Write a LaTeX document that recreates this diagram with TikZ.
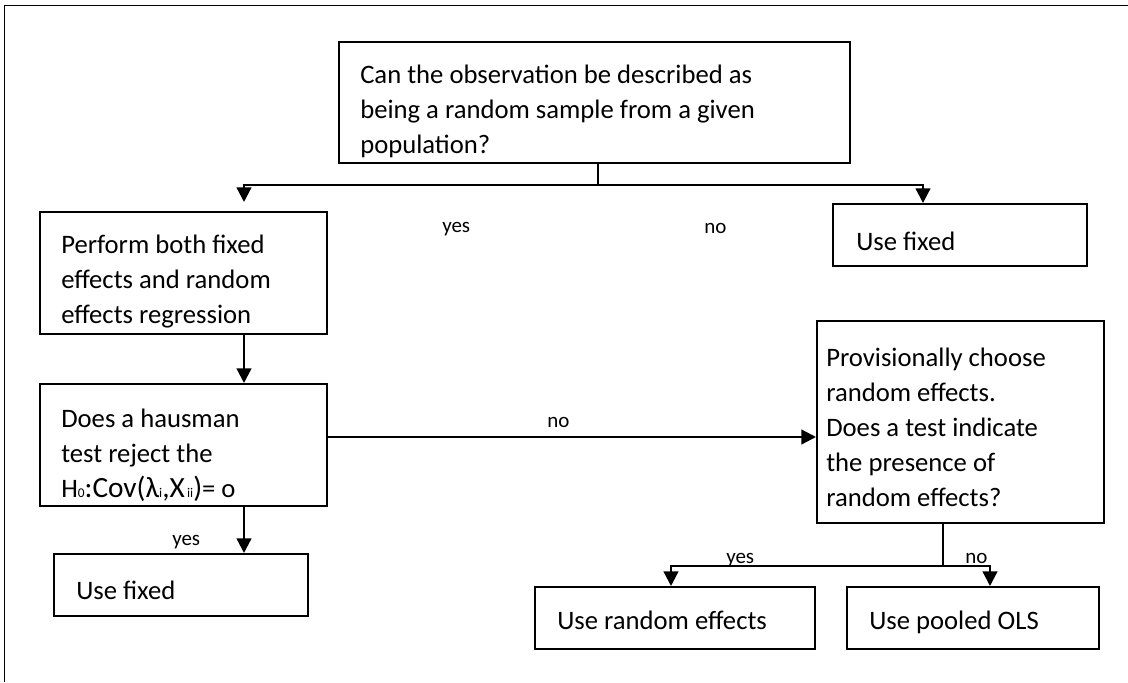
\documentclass[tikz,border=0pt]{standalone}
\usepackage{fontspec}
\setmainfont{Carlito}
\usetikzlibrary{arrows.meta,fit}
\newcommand{\fsA}{\fontsize{10}{12}\selectfont}
\newcommand{\fsB}{\fontsize{22}{26}\selectfont}
\begin{document}
\begin{tikzpicture}[x=0.75pt, y=-0.75pt,
  box/.style={draw, line width=1.5pt, inner sep=0pt, fit={#1}},
  txt/.style={anchor=base west, inner sep=0pt, align=left, font=\fontsize{20}{26.25}\selectfont},
  lbl/.style={anchor=base west, inner sep=0pt, font=\fontsize{15.75}{18}\selectfont},
  conn/.style={line width=1.7pt},
  arr/.style={conn, -{Triangle[width=11pt, length=11pt]}},
  frame/.style={line width=1.1pt}
]
\useasboundingbox (0,0) rectangle (1128,682);
% outer frame
\coordinate (fA) at (4.5,682);
\coordinate (fB) at (4.5,5.5);
\coordinate (fC) at (1128,5.5);
\draw[frame] (fA) -- (fB) -- (fC);

% boxes
\node[box={(339,42) (850,163)}] (top) {};
\node[box={(40,212) (327,334)}] (perform) {};
\node[box={(833,204) (1087,266)}] (fixedA) {};
\node[box={(40,384) (327,506)}] (hausman) {};
\node[box={(817,321) (1104,523)}] (prov) {};
\node[box={(54,554) (308,616)}] (fixedB) {};
\node[box={(535,587) (815,649)}] (random) {};
\node[box={(847,587) (1099,649)}] (pooled) {};

% texts (anchored at the baseline of their last line)
\node[txt] (ttop) at (360,153) {Can the observation be described as\\being a random sample from a given\\population?};
\node[txt] (tperform) at (61,323) {Perform both fixed\\effects and random\\effects regression};
\node[txt] (tfixedA) at (856,250) {Use fixed};
\node[txt] (thausman) at (61,497) {Does a hausman\\test reject the\\H{\fsA 0}{\fsB :Cov(λ}{\fsA i}{\fsB ,X}{\fsA\,ii}{\fsB )}= o};
\node[txt] (tprov) at (826,506) {Provisionally choose\\random effects.\\Does a test indicate\\the presence of\\random effects?};
\node[txt] (tfixedB) at (76,599) {Use fixed};
\node[txt] (trandom) at (557,629) {Use random effects};
\node[txt] (tpooled) at (869,629) {Use pooled OLS};

% junction coordinates
\coordinate (j1) at (598,185);
\coordinate (xL) at (244,0);
\coordinate (xR) at (923,0);
\coordinate (yM) at (0,437);
\coordinate (j2) at (943,566);
\coordinate (xa) at (671,0);
\coordinate (xb) at (990,0);

% connectors
\draw[conn] (top.south -| j1) -- (j1);
\draw[arr, shorten >=6.75pt] (j1) -| (perform.north -| xL);
\draw[arr] (j1) -| (fixedA.north -| xR);
\draw[arr] (perform.south -| xL) -- (hausman.north -| xL);
\draw[arr] (hausman.east |- yM) -- (prov.west |- yM);
\draw[arr] (hausman.south -| xL) -- (fixedB.north -| xL);
\draw[conn] (prov.south -| j2) -- (j2);
\draw[arr] (j2) -| (random.north -| xa);
\draw[arr] (j2) -| (pooled.north -| xb);

% labels
\node[lbl] (l1) at (442,232) {yes};
\node[lbl] (l2) at (704,233) {no};
\node[lbl] (l3) at (547,427) {no};
\node[lbl] (l4) at (172,545) {yes};
\node[lbl] (l5) at (726,563) {yes};
\node[lbl] (l6) at (965,563) {no};
\end{tikzpicture}
\end{document}
